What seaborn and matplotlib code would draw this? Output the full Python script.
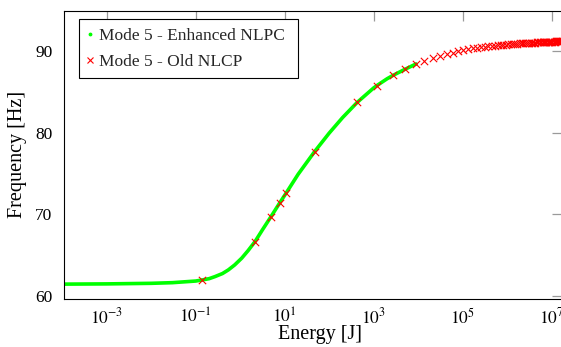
import matplotlib
matplotlib.use("Agg")
import matplotlib.pyplot as plt
from matplotlib.lines import Line2D
from matplotlib.ticker import NullLocator, FixedLocator
import seaborn as sns
import pandas as pd

# ---------------- data ----------------
enh_energy = [1e-4, 1e-3, 1e-2, 0.03, 0.1, 0.136, 0.2, 0.27, 0.4, 0.54, 0.75,
              1.08, 1.5, 2.15, 3.2, 4.92, 7.64, 10.7, 20, 46.8, 100, 200, 428,
              1000, 1167, 2000, 2755, 5050, 8930]
enh_freq = [61.45, 61.48, 61.55, 61.63, 61.83, 61.95, 62.12, 62.37, 62.75, 63.19, 63.8,
            64.63, 65.55, 66.66, 68.15, 69.72, 71.36, 72.58, 74.9, 77.67, 79.95, 81.85, 83.72,
            85.48, 85.75, 86.6, 87.03, 87.76, 88.41]

old_energy = [0.136, 2.15, 4.92, 7.64, 10.7, 46.8, 428, 1167, 2755, 5050, 8930,
              13700, 21200, 30900, 43700, 59600, 79700, 103000, 133600, 168000,
              209600, 257300, 311700, 373200, 444200, 523600, 612000, 709700, 817400,
              935400, 1064000, 1204600, 1356600, 1520900, 1697900, 1888200, 2092300,
              2310400, 2543300, 2791300, 3054900, 3334800, 3631000, 3944300, 4275200,
              4624100, 4991600, 5377800, 5783600, 6209300, 6655300, 7122300, 7610400,
              8120600, 8653100, 9208200, 9786600, 10388700, 11015000, 11666000,
              12342000, 13044000, 13772000, 14527000, 15300000, 16100000, 17000000]
old_freq = [61.95, 66.66, 69.72, 71.36, 72.58, 77.67, 83.72, 85.75, 87.03, 87.76, 88.41,
            88.78, 89.18, 89.42, 89.63, 89.79, 89.96, 90.09, 90.21, 90.33,
            90.40, 90.46, 90.52, 90.57, 90.62, 90.66, 90.70, 90.73, 90.76,
            90.79, 90.82, 90.84, 90.86, 90.88, 90.90, 90.92, 90.93,
            90.95, 90.96, 90.98, 90.99, 91.00, 91.01, 91.02, 91.03,
            91.04, 91.05, 91.06, 91.07, 91.08, 91.09, 91.10, 91.10,
            91.11, 91.12, 91.13, 91.13, 91.14, 91.15, 91.15,
            91.16, 91.17, 91.17, 91.18, 91.19, 91.20, 91.20]

series_labels = ["Mode 5 - Enhanced NLPC", "Mode 5 - Old NLCP"]
x_ticks = [1e-3, 1e-1, 1e1, 1e3, 1e5, 1e7]
x_tick_labels = [r"$10^{-3}$", r"$10^{-1}$", r"$10^{1}$", r"$10^{3}$", r"$10^{5}$", r"$10^{7}$"]
y_ticks = [60, 70, 80, 90]
x_label = "Energy [J]"
y_label = "Frequency [Hz]"

# ---------------- style ----------------
sns.set_theme(style="white")
plt.rcParams["font.family"] = ["Liberation Serif", "DejaVu Serif"]
plt.rcParams["mathtext.fontset"] = "stix"

GREEN = "#00ff00"
RED = "#ff0000"

fig = plt.figure(figsize=(5.61, 3.47), dpi=100)
W, H = 561, 347
left, right, top, bottom = 63.7, 562.0, 10.7, 299.0
ax = fig.add_axes([left / W, (H - bottom) / H, (right - left) / W, (bottom - top) / H])
ax.set_xscale("log")

enh = pd.DataFrame({"E": enh_energy, "f": enh_freq})
old = pd.DataFrame({"E": old_energy, "f": old_freq})

sns.lineplot(data=enh, x="E", y="f", color=GREEN, lw=2.6, estimator=None,
             sort=False, ax=ax, zorder=2)
sns.scatterplot(data=old, x="E", y="f", marker="x", color=RED, s=28,
                linewidth=0.8, ax=ax, zorder=3)

ax.set_xlim(1.08e-4, 1.70e7)
ax.set_ylim(59.63, 94.93)

ax.xaxis.set_major_locator(FixedLocator(x_ticks))
ax.set_xticklabels(x_tick_labels)
ax.xaxis.set_minor_locator(NullLocator())
ax.set_yticks(y_ticks)
ax.set_yticklabels([str(t) for t in y_ticks])

ax.tick_params(axis="both", which="major", direction="in", length=7.2, width=0.9,
               color="#9a9a9a", top=True, right=True, labelsize=12.5, labelcolor="black")
ax.tick_params(axis="x", pad=6)
ax.tick_params(axis="y", pad=8)

for s in ax.spines.values():
    s.set_color("black")
    s.set_linewidth(0.8)

ax.set_xlabel(x_label, fontsize=14.5, color="black")
ax.set_ylabel(y_label, fontsize=14.5, color="black")
ax.xaxis.set_label_coords((320 - left) / (right - left), -(335 - bottom) / (bottom - top))
ax.xaxis.label.set_va("center")
ax.yaxis.set_label_coords(-(left - 18) / (right - left), 0.5)
ax.yaxis.label.set_va("center")

handles = [Line2D([], [], marker=".", ls="", color=GREEN, markersize=3.5),
           Line2D([], [], marker="x", ls="", color=RED, markersize=5, markeredgewidth=0.8)]
aw, ah = right - left, bottom - top
leg_w = (297.7 - 78.7) / aw
leg_top = 1 - 8.6 / ah
leg = ax.legend(handles, series_labels, loc="upper left", mode="expand",
                bbox_to_anchor=(15.0 / aw, leg_top - 0.3, leg_w, 0.3),
                borderaxespad=0, frameon=True, fancybox=False, edgecolor="black",
                handlelength=0.37, handletextpad=0.31, borderpad=0.49, labelspacing=0.56,
                fontsize=12.5, framealpha=1)
leg.get_frame().set_linewidth(0.8)

fig.savefig("out.png", dpi=100)
